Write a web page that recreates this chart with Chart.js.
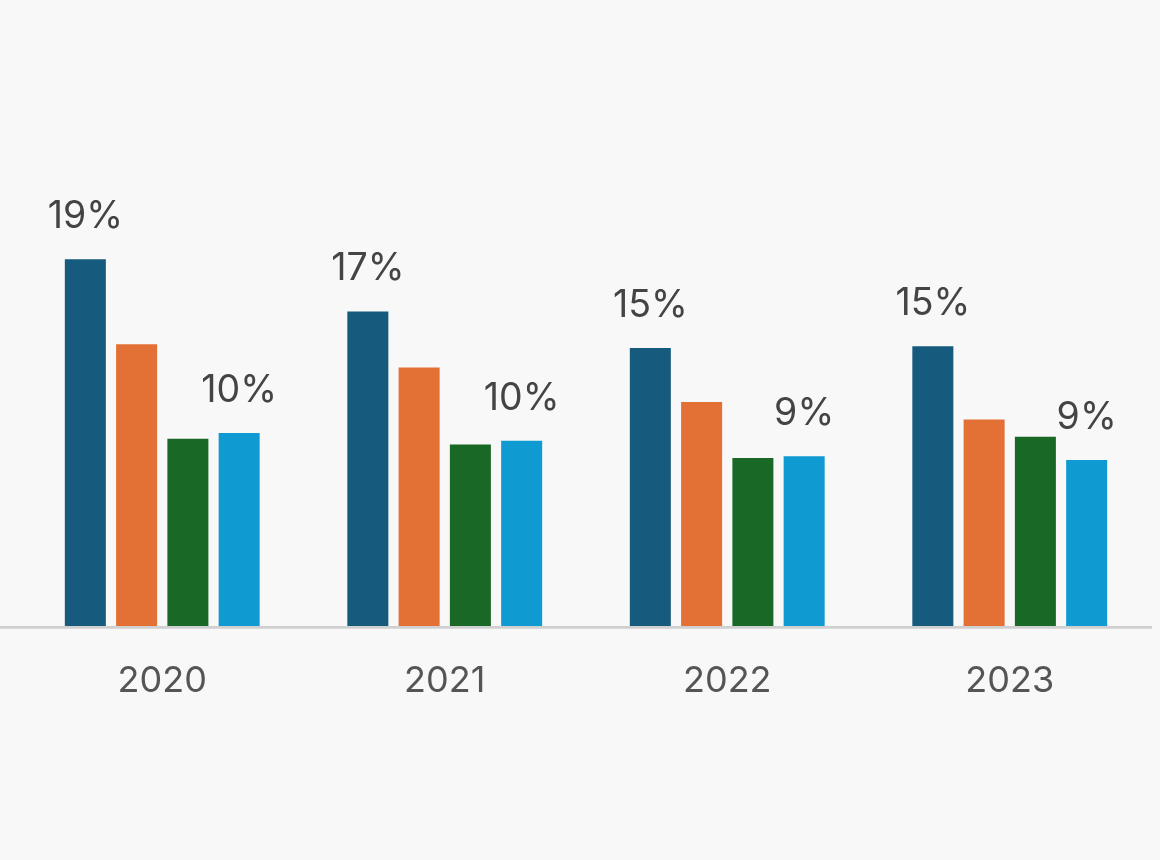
<!DOCTYPE html>
<html>
<head>
<meta charset="utf-8">
<script src="https://cdn.jsdelivr.net/npm/chart.js@4/dist/chart.umd.min.js"></script>
<style>
  html, body { margin: 0; padding: 0; background: #f8f8f8; }
  #wrap { width: 1160px; height: 860px; }
</style>
</head>
<body>
<div id="wrap"><canvas id="chart"></canvas></div>
<script>
const years = ['2020', '2021', '2022', '2023']

// values in percent
const seriesA = [19.0, 16.3, 14.4, 14.5]
const seriesB = [14.6, 13.4, 11.6, 10.7]
const seriesC = [9.7, 9.4, 8.7, 9.8]
const seriesD = [10.0, 9.6, 8.8, 8.6]

// only the first and last series carry a label
const labelsA = ['19%', '17%', '15%', '15%']
const labelsD = ['10%', '10%', '9%', '9%']

const colors = ['#165b7d', '#e37035', '#1a6825', '#0f9bd2']
const fontFamily = 'Inter, sans-serif'

const baseLine = {
  id: 'baseLine',
  afterDatasetsDraw(chart) {
    const ctx = chart.ctx
    const y = chart.scales.y.getPixelForValue(0) + 1.35
    ctx.save()
    ctx.strokeStyle = '#d0d0d0'
    ctx.lineWidth = 2.7
    ctx.beginPath()
    ctx.moveTo(0, y)
    ctx.lineTo(chart.chartArea.right + 1, y)
    ctx.stroke()
    ctx.restore()
  }
}

const barLabels = {
  id: 'barLabels',
  afterDatasetsDraw(chart) {
    const ctx = chart.ctx
    ctx.save()
    ctx.font = '37.5px ' + fontFamily
    ctx.fillStyle = '#444444'
    ctx.textAlign = 'center'
    ctx.textBaseline = 'alphabetic'
    chart.data.datasets.forEach((ds, di) => {
      if (!ds.valueLabels) return
      chart.getDatasetMeta(di).data.forEach((bar, i) => {
        ctx.fillText(ds.valueLabels[i], bar.x, bar.y - 31)
      })
    })
    ctx.restore()
  }
}

new Chart(document.getElementById('chart'), {
  type: 'bar',
  data: {
    labels: years,
    datasets: [
      { label: 'A', data: seriesA, backgroundColor: colors[0], valueLabels: labelsA },
      { label: 'B', data: seriesB, backgroundColor: colors[1] },
      { label: 'C', data: seriesC, backgroundColor: colors[2] },
      { label: 'D', data: seriesD, backgroundColor: colors[3], valueLabels: labelsD }
    ]
  },
  options: {
    responsive: true,
    maintainAspectRatio: false,
    animation: false,
    categoryPercentage: 0.726,
    barPercentage: 0.8,
    layout: {
      padding: { top: 47, left: 21, right: 9, bottom: 134 }
    },
    plugins: {
      legend: { display: false },
      tooltip: { enabled: false }
    },
    scales: {
      y: {
        display: false,
        min: 0,
        max: 30
      },
      x: {
        grid: { display: false },
        border: { display: false },
        ticks: {
          color: '#555555',
          padding: 26,
          font: { family: fontFamily, size: 36 }
        },
        afterFit(scale) { scale.height = 100 }
      }
    }
  },
  plugins: [baseLine, barLabels]
})
</script>
</body>
</html>
